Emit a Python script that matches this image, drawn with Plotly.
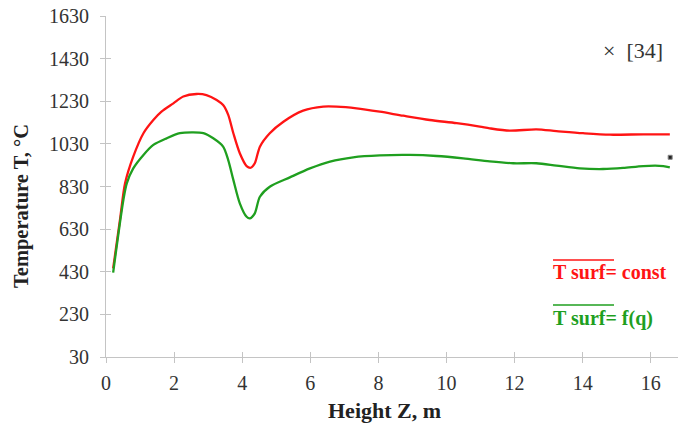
import plotly.graph_objects as go

# Data
red_z = [0.21, 0.41, 0.56, 0.80, 1.10, 1.39, 1.63, 1.98, 2.27, 2.66, 2.95, 3.25, 3.44, 3.59, 3.74,
         3.93, 4.13, 4.25, 4.37, 4.52, 4.81, 5.21, 5.79, 6.38, 6.77, 7.36, 8.04, 8.73, 9.51, 10.30,
         10.98, 11.27, 11.86, 12.64, 13.23, 14.01, 14.80, 15.78, 16.56]
red_t = [446, 673, 845, 970, 1080, 1142, 1181, 1220, 1252, 1264, 1259, 1236, 1212, 1166, 1080,
         986, 926, 918, 939, 1017, 1080, 1134, 1186, 1205, 1205, 1197, 1181, 1162, 1142, 1127,
         1111, 1103, 1092, 1098, 1090, 1080, 1073, 1075, 1075]

green_z = [0.21, 0.51, 0.61, 0.80, 1.10, 1.39, 1.78, 2.17, 2.56, 2.86, 3.15, 3.44, 3.59, 3.74,
           3.93, 4.13, 4.23, 4.37, 4.52, 4.81, 5.40, 5.99, 6.58, 7.26, 8.04, 8.93, 9.71, 10.49,
           11.27, 11.96, 12.64, 13.23, 13.92, 14.60, 15.19, 15.78, 16.37, 16.56]
green_t = [426, 767, 845, 915, 978, 1025, 1056, 1080, 1084, 1080, 1056, 1017, 954, 861,
           751, 688, 681, 704, 782, 829, 873, 915, 947, 967, 976, 978, 973, 962,
           948, 939, 939, 928, 915, 912, 917, 926, 926, 920]

ref_z = [16.57]
ref_t = [967]

x_ticks = [0, 2, 4, 6, 8, 10, 12, 14, 16]
y_ticks = [30, 230, 430, 630, 830, 1030, 1230, 1430, 1630]

SERIF = "Liberation Serif"
AX = "#c4c4c4"
RED = "#ff1414"
GREEN = "#1f9f1f"

fig = go.Figure()
fig.add_trace(go.Scatter(x=red_z, y=red_t, mode="lines",
                         line=dict(color=RED, width=2.3, shape="spline", smoothing=0.8),
                         showlegend=False))
fig.add_trace(go.Scatter(x=green_z, y=green_t, mode="lines",
                         line=dict(color=GREEN, width=2.3, shape="spline", smoothing=0.8),
                         showlegend=False))
fig.add_trace(go.Scatter(x=ref_z, y=ref_t, mode="markers",
                         marker=dict(symbol="square", size=4, color="#222",
                                     line=dict(color="#888", width=1)),
                         showlegend=False))

axis_common = dict(showgrid=False, zeroline=False, showline=True, linecolor=AX, linewidth=1,
                   ticks="outside", ticklen=5, tickcolor=AX, tickwidth=1, automargin=False,
                   tickfont=dict(family=SERIF, size=20, color="#333"))

fig.update_layout(
    width=678, height=424,
    margin=dict(l=106, r=0, t=16, b=67),
    paper_bgcolor="white", plot_bgcolor="white",
    xaxis=dict(range=[0, 16.8], tickvals=x_ticks, ticktext=[str(v) for v in x_ticks],
               ticklabelstandoff=3, **axis_common),
    yaxis=dict(range=[30, 1630], tickvals=y_ticks, ticktext=[str(v) for v in y_ticks],
               ticklabelstandoff=7, **axis_common),
    xaxis2=dict(range=[0, 16.8], overlaying="x", tickvals=x_ticks, showticklabels=False,
                showgrid=False, zeroline=False, showline=False, ticks="inside", ticklen=5,
                tickcolor=AX, side="bottom"),
    yaxis2=dict(range=[30, 1630], overlaying="y", tickvals=y_ticks, showticklabels=False,
                showgrid=False, zeroline=False, showline=False, ticks="inside", ticklen=5,
                tickcolor=AX, side="left"),
)
# invisible trace to activate the overlay axes (crossing tick marks)
fig.add_trace(go.Scatter(x=[0], y=[30], xaxis="x2", yaxis="y2", mode="markers",
                         marker=dict(opacity=0), showlegend=False, hoverinfo="skip"))

W, H = 678, 424
L, R, T, B = 106, 0, 16, 67
pw, ph = W - L - R, H - T - B


def px(x):
    return (x - L) / pw


def py(y):
    return (H - B - y) / ph


fig.add_annotation(text="<b>Temperature T, °C</b>", textangle=-90,
                   xref="paper", yref="paper", x=px(22), y=py(206),
                   xanchor="center", yanchor="middle", showarrow=False,
                   font=dict(family=SERIF, size=20.5, color="#222"))
fig.add_annotation(text="<b>Height Z, m</b>",
                   xref="paper", yref="paper", x=px(384), y=py(410),
                   xanchor="center", yanchor="middle", showarrow=False,
                   font=dict(family=SERIF, size=22, color="#222"))
fig.add_annotation(text="×  [34]",
                   xref="paper", yref="paper", x=px(601), y=py(50),
                   xanchor="left", yanchor="middle", showarrow=False,
                   font=dict(family=SERIF, size=22, color="#333"))
fig.add_annotation(text="<b>T surf= const</b>",
                   xref="paper", yref="paper", x=px(551), y=py(272),
                   xanchor="left", yanchor="middle", showarrow=False,
                   font=dict(family=SERIF, size=20, color=RED))
fig.add_annotation(text="<b>T surf= f(q)</b>",
                   xref="paper", yref="paper", x=px(551), y=py(318),
                   xanchor="left", yanchor="middle", showarrow=False,
                   font=dict(family=SERIF, size=20, color=GREEN))
fig.add_shape(type="line", xref="paper", yref="paper", x0=px(553), x1=px(614),
              y0=py(260), y1=py(260), line=dict(color=RED, width=1.5))
fig.add_shape(type="line", xref="paper", yref="paper", x0=px(553), x1=px(614),
              y0=py(305), y1=py(305), line=dict(color=GREEN, width=1.5))

fig.write_html("out.html", config={"displayModeBar": False},
               post_script="document.body.style.margin='0';")
